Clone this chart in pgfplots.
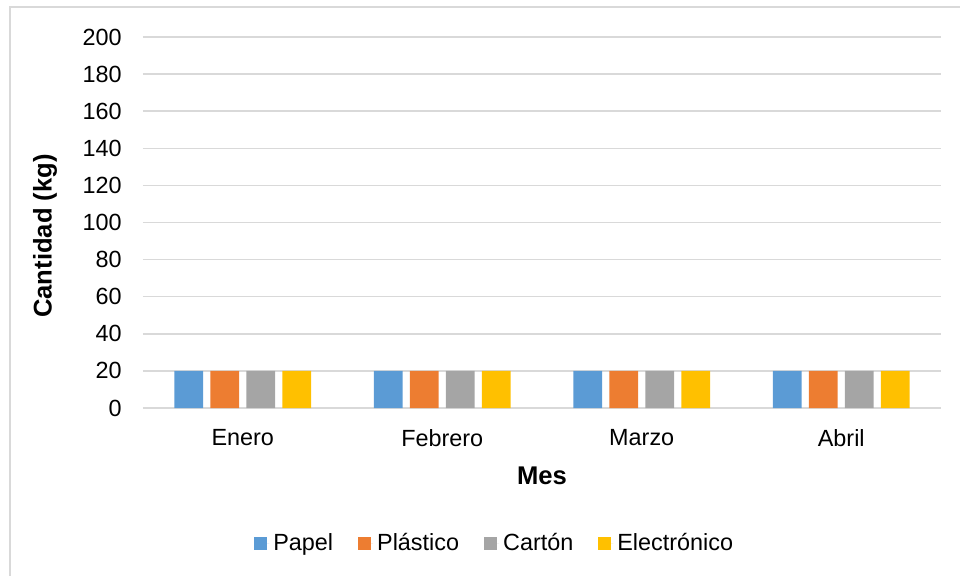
\documentclass[border=0pt]{standalone}
\usepackage{pgfplots}
\pgfplotsset{compat=1.18}
\usepackage{fontspec}
\setmainfont{Liberation Sans}
\definecolor{cBlue}{HTML}{5B9BD5}
\definecolor{cOrange}{HTML}{ED7D31}
\definecolor{cGray}{HTML}{A5A5A5}
\definecolor{cYellow}{HTML}{FFC000}
\definecolor{cGrid}{HTML}{D9D9D9}
\definecolor{cFrame}{HTML}{D9D9D9}
\begin{document}
\begin{tikzpicture}
\useasboundingbox (0,0) rectangle (480pt,-287.5pt);
\begin{scope}
\clip (0,0) rectangle (480pt,-287.5pt);
\draw[color=cFrame, line width=0.75pt] (5pt,-300pt) -- (5pt,-3.5pt) -- (490pt,-3.5pt);
\end{scope}
\begin{axis}[
  at={(71.5pt,-204pt)}, anchor=south west,
  scale only axis, width=399pt, height=185.5pt,
  ybar, bar width=0.144,
  xmin=-0.5, xmax=3.5, ymin=0, ymax=200,
  xtick={0,1,2,3}, xticklabels={Enero,Febrero,Marzo,Abril},
  ytick={0,20,...,200},
  ymajorgrids, major grid style={color=cGrid, line width=0.75pt},
  axis line style={draw=none},
  major tick length=0pt,
  tick label style={font=\fontsize{11.7}{13}\selectfont},
  /pgf/number format/assume math mode=true,
  yticklabel style={anchor=east, inner sep=0pt, xshift=-10.5pt},
  xticklabel style={anchor=north, inner sep=0pt, yshift=-10.5pt},
  xlabel={Mes}, ylabel={Cantidad (kg)},
  label style={font=\bfseries\fontsize{12.8}{14}\selectfont},
  xlabel style={at={(axis description cs:0.5,-0.1833)}, anchor=center},
  ylabel style={at={(axis description cs:-0.1228,0.4636)}, anchor=center},
  legend columns=4,
  legend style={at={(axis description cs:0.442,-0.364)}, anchor=center,
    draw=none, fill=none, font=\fontsize{11.7}{13}\selectfont,
    /tikz/every even column/.append style={column sep=10.5pt}},
  legend image code/.code={\draw[#1,draw=none] (0pt,-3.25pt) rectangle (6.5pt,3.25pt);
    \path (0pt,0pt) -- (7.5pt,0pt);},
]
\addplot[fill=cBlue, draw=none, bar shift=-0.271] coordinates {(0,20) (1,20) (2,20) (3,20)};
\addplot[fill=cOrange, draw=none, bar shift=-0.090] coordinates {(0,20) (1,20) (2,20) (3,20)};
\addplot[fill=cGray, draw=none, bar shift=0.090] coordinates {(0,20) (1,20) (2,20) (3,20)};
\addplot[fill=cYellow, draw=none, bar shift=0.271] coordinates {(0,20) (1,20) (2,20) (3,20)};
\legend{Papel, Plástico, Cartón, Electrónico}
\end{axis}
\end{tikzpicture}
\end{document}
